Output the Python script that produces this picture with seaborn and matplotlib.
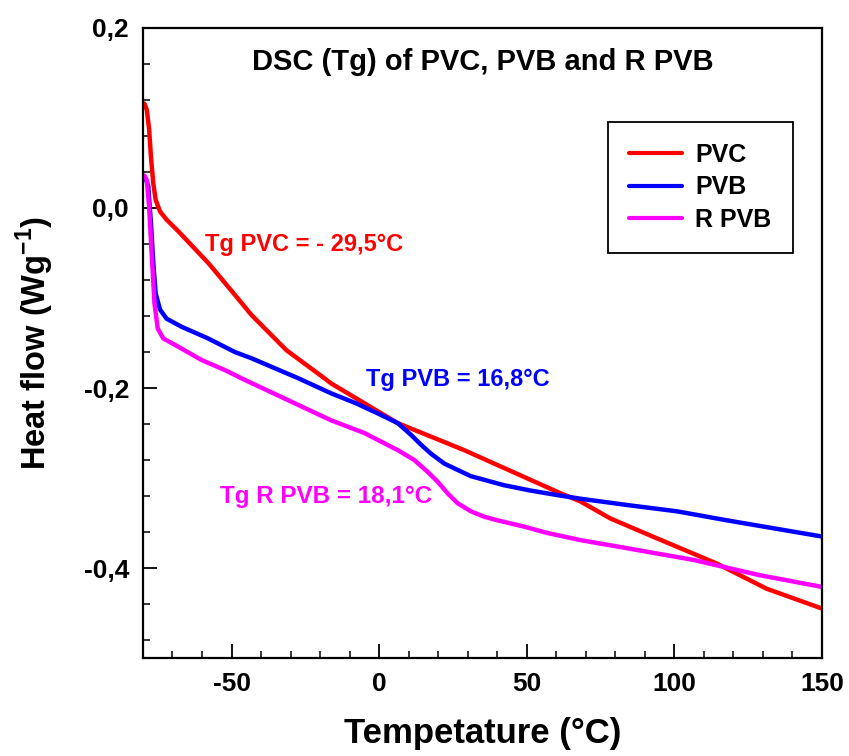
import numpy as np
import pandas as pd
import seaborn as sns
import matplotlib
matplotlib.use("Agg")
import matplotlib.pyplot as plt
from matplotlib.ticker import MultipleLocator

# values
pvc_x = [-79.5, -78.7, -77.9, -77.3, -76.5, -75.7, -74.2, -72.0, -68.0, -57.9, -50.0, -43.2, -31.4,
         -18.6, -16.2, 6.3, 28.8, 61.5, 68.2, 78.4, 94.1, 114.4, 131.3, 150.0]
pvc_y = [0.116, 0.109, 0.087, 0.057, 0.027, 0.009, -0.004, -0.013, -0.026, -0.061, -0.092, -0.119, -0.158,
         -0.189, -0.195, -0.239, -0.269, -0.317, -0.326, -0.345, -0.367, -0.395, -0.423, -0.445]

pvb_x = [-79.1, -78.2, -77.3, -76.5, -75.7, -74.2, -72.0, -66.9, -57.9, -48.9, -43.2, -27.5, -16.2,
         -7.8, 0.7, 6.3, 10.8, 14.2, 17.6, 22.1, 26.6, 31.1, 35.6, 42.3, 51.4, 60.4, 68.2,
         84.0, 100.9, 117.8, 150.0]
pvb_y = [0.033, 0.024, -0.017, -0.061, -0.095, -0.113, -0.123, -0.132, -0.145, -0.160, -0.167, -0.189, -0.206,
         -0.217, -0.230, -0.239, -0.252, -0.263, -0.273, -0.284, -0.291, -0.298, -0.302, -0.308, -0.314, -0.319, -0.323,
         -0.330, -0.337, -0.347, -0.365]

rpvb_x = [-79.5, -78.7, -77.9, -77.0, -76.1, -75.0, -73.1, -69.2, -60.1, -52.3, -45.5, -16.2,
          -5.0, 6.3, 11.9, 16.4, 19.8, 23.2, 26.6, 31.1, 35.6, 40.1, 49.1, 56.9, 68.2,
          84.0, 106.5, 129.0, 150.0]
rpvb_y = [0.036, 0.031, 0.001, -0.054, -0.106, -0.134, -0.145, -0.152, -0.169, -0.180, -0.191, -0.236,
          -0.250, -0.269, -0.280, -0.293, -0.304, -0.317, -0.328, -0.337, -0.343, -0.347, -0.354, -0.361, -0.369,
          -0.378, -0.391, -0.408, -0.421]

series = ["PVC", "PVB", "R PVB"]
colors = ["#ff0000", "#0000ff", "#ff00ff"]
x_ticks = [-50, 0, 50, 100, 150]
y_ticks = [0.2, 0.0, -0.2, -0.4]
y_labels = ["0,2", "0,0", "-0,2", "-0,4"]

df = pd.concat([
    pd.DataFrame({"T": pvc_x, "hf": pvc_y, "sample": "PVC"}),
    pd.DataFrame({"T": pvb_x, "hf": pvb_y, "sample": "PVB"}),
    pd.DataFrame({"T": rpvb_x, "hf": rpvb_y, "sample": "R PVB"}),
], ignore_index=True)

sns.set_style("ticks")
plt.rcParams["font.family"] = ["Liberation Sans", "DejaVu Sans"]
plt.rcParams["font.weight"] = "bold"
plt.rcParams["text.color"] = "black"
plt.rcParams["xtick.color"] = "black"
plt.rcParams["ytick.color"] = "black"
plt.rcParams["axes.labelcolor"] = "black"
plt.rcParams["axes.unicode_minus"] = False
plt.rcParams["mathtext.fontset"] = "custom"
plt.rcParams["mathtext.bf"] = "Liberation Sans:bold"
plt.rcParams["mathtext.rm"] = "Liberation Sans:bold"

fig = plt.figure(figsize=(8.49, 7.56), dpi=100)
ax = fig.add_axes([0.1684, 0.1296, 0.7996, 0.8334])

sns.lineplot(data=df, x="T", y="hf", hue="sample", hue_order=series,
             palette=colors, sort=False, estimator=None, linewidth=3.2, ax=ax)

ax.set_xlim(-80, 150)
ax.set_ylim(-0.5, 0.2)
ax.set_xticks(x_ticks)
ax.xaxis.set_minor_locator(MultipleLocator(10))
ax.set_yticks(y_ticks)
ax.set_yticklabels(y_labels)
ax.yaxis.set_minor_locator(MultipleLocator(0.04))
ax.tick_params(which="major", direction="in", length=10, width=1.3, labelsize=19, pad=10)
ax.tick_params(which="minor", direction="in", length=5, width=1.1)
for lab in ax.get_xticklabels() + ax.get_yticklabels():
    lab.set_fontweight("bold")
for sp in ax.spines.values():
    sp.set_linewidth(1.6)
    sp.set_color("black")

ax.set_xlabel("Tempetature (°C)", fontsize=25, fontweight="bold", labelpad=15)
ax.set_ylabel("Heat flow (Wg$^{-1}$)", fontsize=23.5, fontweight="bold", labelpad=20)

ax.text(0.5, 0.946, "DSC (Tg) of PVC, PVB and R PVB", transform=ax.transAxes,
        ha="center", va="center", fontsize=21, fontweight="bold")
ax.text(-59, -0.041, "Tg PVC = - 29,5°C", color=colors[0], fontsize=17, fontweight="bold", va="center")
ax.text(-4.4, -0.191, "Tg PVB = 16,8°C", color=colors[1], fontsize=17, fontweight="bold", va="center")
ax.text(-54, -0.321, "Tg R PVB = 18,1°C", color=colors[2], fontsize=17.5, fontweight="bold", va="center")

leg = ax.legend(loc="upper left", bbox_to_anchor=(0.685, 0.851), borderaxespad=0,
                fontsize=18, handlelength=2.1, handletextpad=0.55, borderpad=0.85,
                labelspacing=0.33, fancybox=False, framealpha=1, edgecolor="black")
leg.get_frame().set_linewidth(1.3)
for t in leg.get_texts():
    t.set_fontweight("bold")
for h in leg.get_lines():
    h.set_linewidth(3)

fig.savefig("out.png", dpi=100)
